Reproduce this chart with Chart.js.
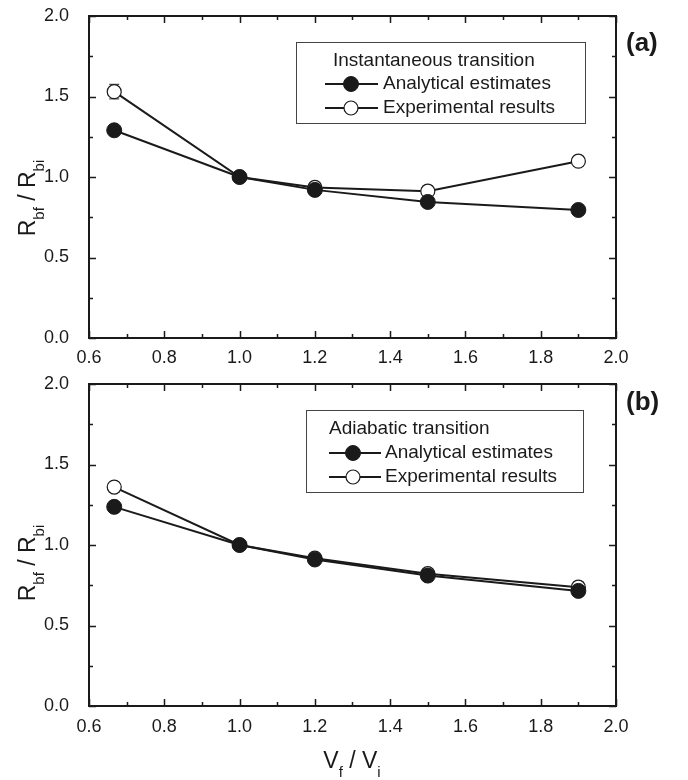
<!DOCTYPE html>
<html><head><meta charset="utf-8">
<script src="https://cdn.jsdelivr.net/npm/chart.js@4/dist/chart.umd.min.js"></script>
<style>
html,body{margin:0;padding:0;background:#fff;}
#wrap{position:relative;width:688px;height:780px;overflow:hidden;}
canvas{position:absolute;left:0;display:block;}
#c1{top:0;}
#c2{top:370px;}
</style></head><body>
<div id="wrap">
<canvas id="c1" width="688" height="370"></canvas>
<canvas id="c2" width="688" height="410"></canvas>
</div>
<script>
// ---- data ----
const vRatio = [0.667, 1.0, 1.2, 1.5, 1.9];
const instAnalytical   = [1.29, 1.00, 0.92, 0.845, 0.795];
const instExperimental = [1.53, 1.00, 0.935, 0.912, 1.098];
const instExpError     = [0.045, 0.01, 0.03, 0.035, 0.03];
const adiaAnalytical   = [1.237, 1.00, 0.91, 0.81, 0.715];
const adiaExperimental = [1.36, 1.00, 0.918, 0.822, 0.738];
const adiaExpError     = [0.03, 0.01, 0.02, 0.025, 0.035];
const seriesLabels = ['Analytical estimates', 'Experimental results'];
const xRange = [0.6, 2.0], xStep = 0.1;
const yRange = [0.0, 2.0], yStep = 0.25;

const FONT = '"Liberation Sans", Arial, Helvetica, sans-serif';
const INK = '#1a1a1a';

function drawRich(ctx, parts, x, y, align) {
  const main = '23px ' + FONT, sub = '15px ' + FONT;
  let w = 0;
  parts.forEach(p => { ctx.font = p[1] ? sub : main; w += ctx.measureText(p[0]).width; });
  let cx = align === 'center' ? x - w / 2 : x;
  parts.forEach(p => {
    ctx.font = p[1] ? sub : main;
    ctx.fillText(p[0], cx, p[1] ? y + 9 : y);
    cx += ctx.measureText(p[0]).width;
  });
}

function makePanel(id, analytical, experimental, errors, o) {
  const deco = {
    id: 'deco_' + id,
    beforeDatasetsDraw(chart) {
      const ctx = chart.ctx, xs = chart.scales.x, ys = chart.scales.y;
      ctx.save();
      ctx.strokeStyle = '#555'; ctx.lineWidth = 1.2;
      const ds = chart.data.datasets[1];
      ds.data.forEach((p, i) => {
        const px = xs.getPixelForValue(p.x);
        const y1 = ys.getPixelForValue(p.y - errors[i]);
        const y2 = ys.getPixelForValue(p.y + errors[i]);
        ctx.beginPath();
        ctx.moveTo(px, y1); ctx.lineTo(px, y2);
        ctx.moveTo(px - 5, y1); ctx.lineTo(px + 5, y1);
        ctx.moveTo(px - 5, y2); ctx.lineTo(px + 5, y2);
        ctx.stroke();
      });
      ctx.restore();
    },
    afterDraw(chart) {
      const ctx = chart.ctx, a = chart.chartArea, xs = chart.scales.x, ys = chart.scales.y;
      ctx.save();
      ctx.strokeStyle = INK; ctx.lineWidth = 1.5;
      ctx.beginPath();
      xs.ticks.forEach(t => {
        const px = Math.round(xs.getPixelForValue(t.value)) + 0.5;
        const L = (Math.round(t.value * 10) % 2 === 0) ? 7 : 4;
        ctx.moveTo(px, a.bottom); ctx.lineTo(px, a.bottom - L);
        ctx.moveTo(px, a.top); ctx.lineTo(px, a.top + L);
      });
      ys.ticks.forEach(t => {
        const py = Math.round(ys.getPixelForValue(t.value)) + 0.5;
        const L = (Math.round(t.value * 4) % 2 === 0) ? 7 : 4;
        ctx.moveTo(a.left, py); ctx.lineTo(a.left + L, py);
        ctx.moveTo(a.right, py); ctx.lineTo(a.right - L, py);
      });
      ctx.stroke();
      ctx.lineWidth = 2;
      ctx.strokeRect(a.left, a.top, a.right - a.left, a.bottom - a.top);

      // legend
      const lg = o.legend;
      ctx.lineWidth = 1; ctx.strokeStyle = '#444';
      ctx.strokeRect(lg.x + 0.5, lg.y + 0.5, lg.w, lg.h);
      ctx.fillStyle = INK; ctx.textBaseline = 'middle'; ctx.textAlign = 'left';
      ctx.font = '19px ' + FONT;
      ctx.fillText(o.legendTitle, lg.tx, lg.rows[0]);
      chart.data.datasets.forEach((ds, i) => {
        const yy = lg.rows[i + 1];
        ctx.strokeStyle = ds.borderColor; ctx.lineWidth = ds.borderWidth;
        ctx.beginPath(); ctx.moveTo(lg.lx0, yy); ctx.lineTo(lg.lx1, yy); ctx.stroke();
        ctx.beginPath(); ctx.arc(lg.mx, yy, ds.pointRadius, 0, Math.PI * 2);
        ctx.fillStyle = ds.pointBackgroundColor; ctx.fill();
        ctx.lineWidth = ds.pointBorderWidth; ctx.strokeStyle = ds.pointBorderColor; ctx.stroke();
        ctx.fillStyle = INK;
        ctx.font = '19px ' + FONT;
        ctx.fillText(ds.label, lg.textX, yy);
      });

      ctx.font = 'bold 26px ' + FONT; ctx.fillStyle = INK;
      ctx.fillText(o.tag, 626, o.tagY);

      ctx.save();
      ctx.translate(o.yTitleX, o.yTitleY);
      ctx.rotate(-Math.PI / 2);
      ctx.textBaseline = 'alphabetic';
      drawRich(ctx, [['R', false], ['bf', true], [' / R', false], ['bi', true]], 0, 0, 'center');
      ctx.restore();

      if (o.xTitle) {
        ctx.textBaseline = 'alphabetic';
        drawRich(ctx, [['V', false], ['f', true], [' / V', false], ['i', true]], 352, o.xTitleY, 'center');
      }
      ctx.restore();
    }
  };

  const mk = arr => vRatio.map((x, i) => ({ x: x, y: arr[i] }));
  return new Chart(document.getElementById(id), {
    type: 'line',
    data: {
      datasets: [
        { label: seriesLabels[0], data: mk(analytical), borderColor: INK, borderWidth: 2,
          pointRadius: 7.5, pointHoverRadius: 7.5, pointBackgroundColor: INK, pointBorderColor: INK,
          pointBorderWidth: 1, fill: false, tension: 0 },
        { label: seriesLabels[1], data: mk(experimental), borderColor: INK, borderWidth: 2,
          pointRadius: 7, pointHoverRadius: 7, pointBackgroundColor: '#ffffff', pointBorderColor: INK,
          pointBorderWidth: 1.2, fill: false, tension: 0 }
      ]
    },
    options: {
      responsive: false, animation: false, devicePixelRatio: 1,
      layout: { padding: { left: 0, right: 72, top: o.top, bottom: 0 } },
      plugins: { legend: { display: false }, tooltip: { enabled: false } },
      events: [],
      scales: {
        x: {
          type: 'linear', min: xRange[0], max: xRange[1],
          grid: { display: false }, border: { display: false },
          ticks: {
            stepSize: xStep, autoSkip: false, maxRotation: 0, minRotation: 0,
            padding: o.xPad, color: INK, font: { family: FONT, size: 18 },
            callback: v => (Math.round(v * 10) % 2 === 0) ? v.toFixed(1) : ''
          },
          afterFit: s => { s.height = o.xAxisH; s.paddingLeft = 0; s.paddingRight = 0; }
        },
        y: {
          type: 'linear', min: yRange[0], max: yRange[1],
          grid: { display: false }, border: { display: false },
          ticks: {
            stepSize: yStep, autoSkip: false, padding: o.yPad, color: INK, font: { family: FONT, size: 18 },
            callback: v => (Math.round(v * 4) % 2 === 0) ? v.toFixed(1) : ''
          },
          afterFit: s => { s.width = 89; s.paddingTop = 0; s.paddingBottom = 0; }
        }
      }
    },
    plugins: [deco]
  });
}

makePanel('c1', instAnalytical, instExperimental, instExpError, {
  top: 16, xAxisH: 32, xPad: 1, yPad: 12,
  legendTitle: 'Instantaneous transition',
  legend: { x: 296, y: 42, w: 289, h: 81, tx: 333, rows: [61, 84, 108], lx0: 325, lx1: 378, mx: 351, textX: 383 },
  tag: '(a)', tagY: 44, yTitleX: 35, yTitleY: 198
});
makePanel('c2', adiaAnalytical, adiaExperimental, adiaExpError, {
  top: 14, xAxisH: 74, xPad: 2, yPad: 12,
  legendTitle: 'Adiabatic transition',
  legend: { x: 306, y: 40, w: 277, h: 82, tx: 329, rows: [59, 83, 107], lx0: 329, lx1: 381, mx: 353, textX: 385 },
  tag: '(b)', tagY: 33, yTitleX: 35, yTitleY: 193, xTitle: true, xTitleY: 398
});
</script>
</body></html>
